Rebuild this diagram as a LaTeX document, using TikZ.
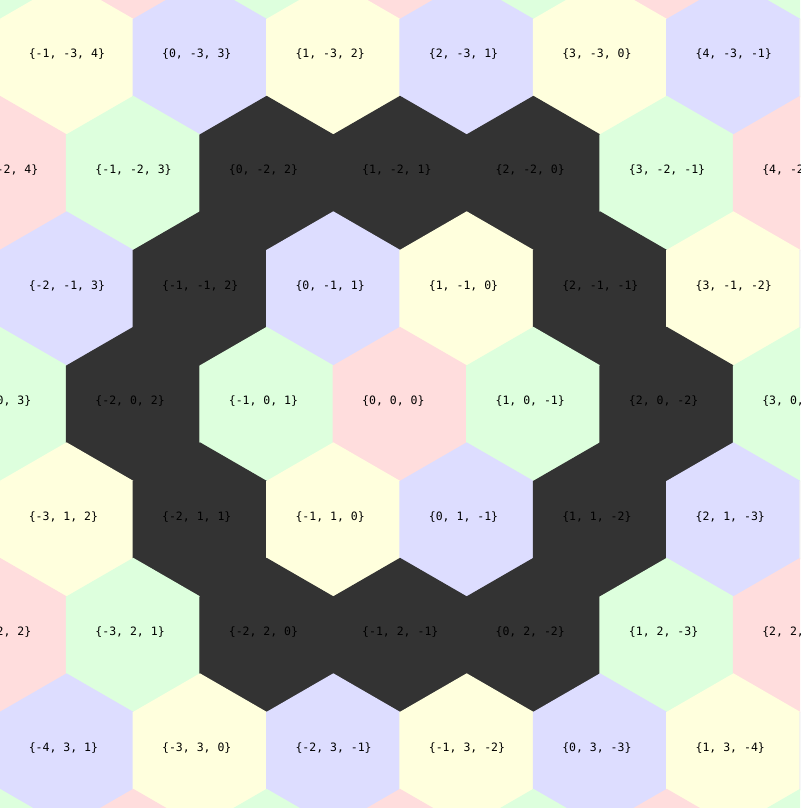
\documentclass[tikz,border=0pt]{standalone}
\usepackage{fontspec}
\setmonofont{DejaVu Sans Mono}
\usetikzlibrary{calc}
\definecolor{hexPink}{HTML}{FFDDDD}
\definecolor{hexGreen}{HTML}{DDFFDD}
\definecolor{hexBlue}{HTML}{DDDDFF}
\definecolor{hexYellow}{HTML}{FFFFDD}
\definecolor{hexRing}{HTML}{333333}
\tikzset{
  hexcell/.style={line width=1.2pt, line join=miter},
  hexlabel/.style={anchor=base west, inner sep=0pt, font=\fontsize{11.5}{12}\ttfamily, text=black}
}
\newcommand{\hexsize}{77}

\begin{document}
\begin{tikzpicture}[x=1pt, y=-1pt]
  \useasboundingbox (0,0) rectangle (800,808);
  \clip (0,0) rectangle (800,808);
  % cube coordinates (q, r, s), pointy-top cells
  \foreach \r in {-4,...,4}{
    \foreach \q in {-8,...,8}{
      \pgfmathsetmacro{\cx}{400+133.37*(\q+0.5*\r)}
      \pgfmathsetmacro{\cy}{404.5+115.5*\r}
      \pgfmathtruncatemacro{\hs}{-\q-\r}
      \pgfmathtruncatemacro{\dist}{max(abs(\q),abs(\r),abs(\hs))}
      \pgfmathtruncatemacro{\tone}{mod(\q+10,2)+2*mod(\r+10,2)}
      \pgfmathtruncatemacro{\inview}{and(\cx>-68,\cx<868)}
      \pgfmathtruncatemacro{\textview}{and(and(\cx>-40,\cx<838),and(\cy>5,\cy<815))}
      \ifnum\inview=1
        \edef\hexcol{\ifcase\tone hexPink\or hexGreen\or hexBlue\or hexYellow\fi}
        \ifnum\dist=2 \def\hexcol{hexRing}\fi
        \fill[hexcell, fill=\hexcol, draw=\hexcol] (\cx,\cy)
          +(90:\hexsize) -- +(150:\hexsize) -- +(210:\hexsize)
          -- +(270:\hexsize) -- +(330:\hexsize) -- +(30:\hexsize) -- cycle;
      \fi
      \ifnum\textview=1
        \node[hexlabel] (cell\q/\r) at (\cx-38,\cy) {\{\q, \r, \hs\}};
      \fi
    }
  }
\end{tikzpicture}
\end{document}
